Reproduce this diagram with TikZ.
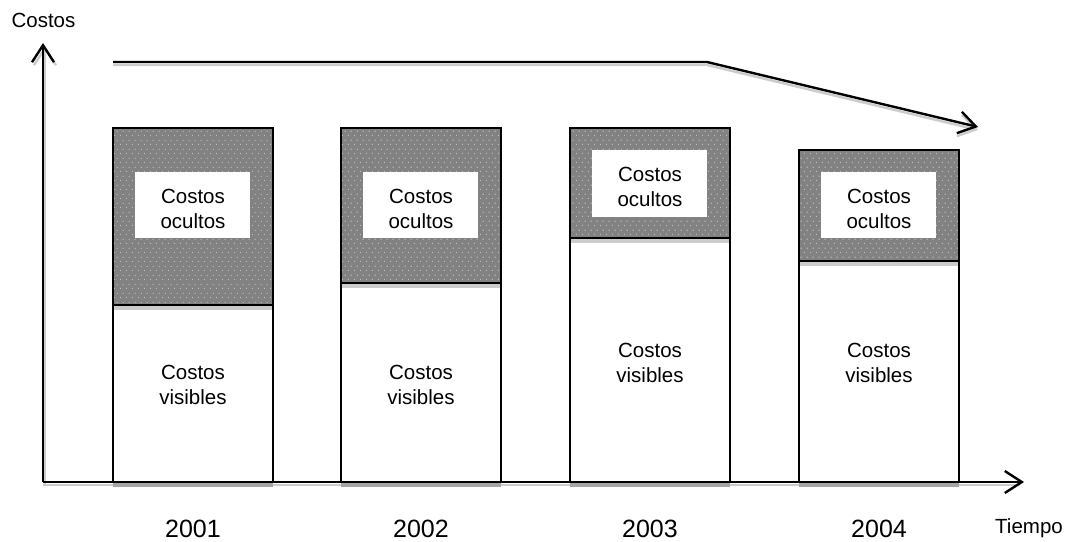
\documentclass[tikz,border=0pt]{standalone}
\usepackage{fontspec}
\setmainfont{Liberation Sans}
\usetikzlibrary{arrows.meta,patterns}
% sparse staggered dot screen for the hidden-cost blocks
\pgfdeclarepatternformonly{sparsedots}{\pgfpointorigin}{\pgfqpoint{6pt}{9pt}}{\pgfqpoint{6pt}{9pt}}{%
  \pgfpathrectangle{\pgfqpoint{0pt}{0pt}}{\pgfqpoint{1.1pt}{1.3pt}}%
  \pgfpathrectangle{\pgfqpoint{3pt}{4.5pt}}{\pgfqpoint{1.1pt}{1.3pt}}%
  \pgfusepath{fill}}
\begin{document}
\begin{tikzpicture}[x=1pt,y=-1pt,
  axis/.style={line width=2.4pt, draw=black},
  shade/.style={line width=2.4pt, draw=black!20},
  tip/.style={-{Straight Barb[length=17pt,width=22pt]}},
  barline/.style={line width=1.7pt, draw=black},
  hole/.style={fill=white, draw=none, inner sep=0pt, outer sep=0pt,
    minimum width=115pt, anchor=north west},
  lbl/.style={align=center, inner sep=0pt, font=\fontsize{20.5}{25}\selectfont},
  yearlbl/.style={anchor=base, inner sep=0pt, font=\fontsize{25}{29}\selectfont}
]
\useasboundingbox (0,0) rectangle (1071,541);

% axes and trend line end points
\coordinate (o) at (43,482);
\coordinate (ytop) at (43,43);
\coordinate (xend) at (1024,482);
\coordinate (t0) at (113,62);
\coordinate (t1) at (707,62);
\coordinate (t2) at (978,127);

% soft drop shadows under the lines
\draw[shade, tip] ([shift={(2,3)}]o) -- ([shift={(2,3)}]ytop);
\draw[shade] ([shift={(0,3)}]o) -- ([shift={(-4,3)}]xend);
\draw[shade, tip] ([shift={(0,3)}]t0) -- ([shift={(0,3)}]t1) -- ([shift={(0,3)}]t2);

% bars: left / top / divider / hole top / hole height / label baselines / year
\foreach \l/\t/\m/\by/\bh/\ob/\vb/\yr [count=\i] in
  {113/128/305/172/66/203/379/2001,
   341/128/283/172/66/203/379/2002,
   570/128/238/150/67/181/357/2003,
   799/150/261/172/66/203/357/2004}{
  \fill[white] (\l,\t) rectangle (\l+160,482);
  \fill[black!49] (\l,\t) rectangle (\l+160,\m);
  \path[pattern=sparsedots, pattern color=black!25] (\l,\t) rectangle (\l+160,\m);
  \node[hole, minimum height={\bh pt}] (hole\i) at (\l+22,\by) {};
  \fill[black!20] (\l,\m) rectangle (\l+160,\m+5);
  \draw[line width=2.2pt] (\l,\m) -- (\l+160,\m);
  \fill[black!35] (\l,483) rectangle (\l+160,487);
  \draw[barline] (\l,482) rectangle (\l+160,\t);
  \node[lbl] (oc\i) at (\l+80,\ob+5.5) {Costos\\ocultos};
  \node[lbl] (vis\i) at (\l+80,\vb+5.5) {Costos\\visibles};
  \node[yearlbl] (yr\i) at (\l+80,537) {\yr};
}

% axes
\draw[axis, tip] (o) -- (ytop);
\draw[axis, tip] (o) -- (xend);

% trend line
\draw[axis, tip, line join=round] (t0) -- (t1) -- (t2);

% axis titles
\node[anchor=base, inner sep=0pt, font=\fontsize{20.5}{25}\selectfont] (ylab) at (43.5,27) {Costos};
\node[anchor=base, inner sep=0pt, font=\fontsize{20.5}{25}\selectfont] (xlab) at (1029,533) {Tiempo};
\end{tikzpicture}
\end{document}
